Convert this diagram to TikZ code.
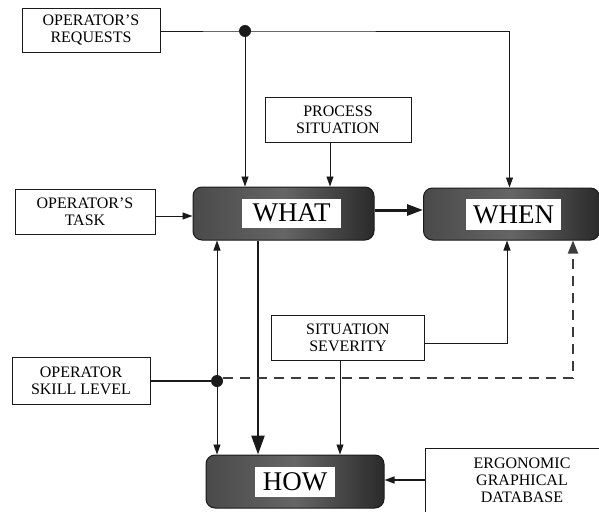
\documentclass[tikz,border=0pt]{standalone}
\usepackage{fontspec}
\setmainfont{Liberation Serif}
\usepackage{tikz}
\usetikzlibrary{calc,arrows.meta}
\definecolor{ink}{HTML}{1A1A1A}
\definecolor{slate}{HTML}{4A4A4A}
\definecolor{slated}{HTML}{2A2A2A}
\tikzset{
  inbox/.style={draw=ink, line width=0.8pt, fill=white, align=center, inner sep=2pt,
    font=\fontsize{16}{17}\selectfont},
  blk/.style={draw=ink, line width=1pt, rounded corners=9pt, left color=slate, right color=slated,
    middle color=slate!85},
  tag/.style={fill=white, inner sep=0pt, font=\fontsize{27}{27}\selectfont},
  wire/.style={draw=ink, line width=0.9pt, -{Triangle[length=10pt,width=7pt]}},
  fat/.style={draw=ink, line width=2.4pt, -{Triangle[length=19pt,width=13pt]}},
  dashln/.style={draw=ink!85, line width=1.8pt, dash pattern=on 10pt off 7pt,
    -{Triangle[length=13pt,width=10pt]}},
  dot/.style={circle, fill=ink, inner sep=0pt, minimum size=12pt},
}
\begin{document}
\begin{tikzpicture}[x=1pt,y=-1pt]
  \clip (0,0) rectangle (599,511);
  \fill[white] (0,0) rectangle (599,511);

  % input boxes
  \node[inbox, minimum width=138pt, minimum height=44pt] (req) at (91,30) {OPERATOR'S\\REQUESTS};
  \node[inbox, minimum width=146pt, minimum height=45pt] (proc) at (338,120) {PROCESS\\SITUATION};
  \node[inbox, minimum width=140pt, minimum height=45pt] (task) at (85,212) {OPERATOR'S\\TASK};
  \node[inbox, minimum width=138pt, minimum height=47pt] (skill) at (81,381) {OPERATOR\\SKILL LEVEL};
  \node[inbox, minimum width=153pt, minimum height=45pt] (sev) at (348,338) {SITUATION\\SEVERITY};
  \node[inbox, minimum width=180pt, minimum height=72pt, anchor=north west] (ergo) at (425,448) {};
  \node[font=\fontsize{16}{17}\selectfont, align=center] (ergoT) at (522,480) {ERGONOMIC\\GRAPHICAL\\DATABASE};

  % dark blocks
  \node[blk, minimum width=181pt, minimum height=53pt] (what) at (283.5,213.5) {};
  \node[tag, minimum width=99pt, minimum height=29pt] (whatT) at (291.5,213) {WHAT};
  \node[blk, minimum width=176pt, minimum height=52pt] (when) at (511.5,214) {};
  \node[tag, minimum width=95pt, minimum height=31pt] (whenT) at (513.5,214.5) {WHEN};
  \node[blk, minimum width=178pt, minimum height=53pt] (how) at (295,481.5) {};
  \node[tag, minimum width=80pt, minimum height=30pt] (howT) at (295,482) {HOW};

  % junctions
  \node[dot] (jreq) at (245,31) {};
  \node[dot] (jskill) at (217,381) {};

  \draw[wire] (req.east |- jreq) -- (jreq.center) -| ([xshift=-2pt]when.north);
  \draw[wire] (jreq.center) -- (jreq |- what.north);
  \draw[wire] ([xshift=-8pt]proc.south) -- ([xshift=-8pt]proc.south |- what.north);
  \draw[wire] (task.east |- 0,216) -- (what.west |- 0,216);
  \draw[fat, line width=3pt, -{Triangle[length=16pt,width=11pt]}] (what.east |- 0,210) -- (when.west |- 0,210);

  \draw[wire] (jskill.center) -- (jskill |- what.south);
  \draw[wire] (jskill.center) -- (jskill |- how.north);
  \draw[fat] (what.south -| 258,0) -- (how.north -| 258,0);
  \draw[ink, line width=2pt] (skill.east) -- (jskill.center);
  \draw[dashln] ([yshift=3pt]jskill.east) -| ([xshift=61.5pt]when.south);

  \draw[wire] (sev.east |- 0,343) -| ([xshift=-4.5pt]when.south);
  \draw[wire] ([xshift=-8pt]sev.south) -- ([xshift=-8pt]sev.south |- how.north);
  \draw[wire, line width=1.5pt] (ergo.west |- 0,480) -- (how.east |- 0,480);
\end{tikzpicture}
\end{document}
